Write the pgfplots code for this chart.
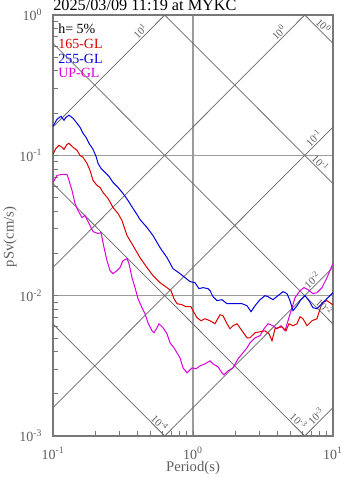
\documentclass[border=0pt]{standalone}
\usepackage{fontspec}
\setmainfont{Liberation Serif}
\usepackage{pgfplots}
\usepackage{pgfplotstable}
\pgfplotsset{compat=1.18}
\definecolor{cRed}{RGB}{220,0,0}
\definecolor{cBlue}{RGB}{0,0,225}
\definecolor{cMag}{RGB}{220,0,220}
\definecolor{gridc}{RGB}{155,155,155}
\definecolor{diagc}{RGB}{105,105,105}
\definecolor{labc}{RGB}{95,95,95}
\definecolor{axc}{RGB}{120,120,120}

\pgfplotstableread{
T Sv
0.1000 0.1611
0.1068 0.1808
0.1141 0.1899
0.1198 0.1778
0.1238 0.1868
0.1301 0.1931
0.1390 0.1838
0.1484 0.1693
0.1559 0.1585
0.1638 0.1436
0.1721 0.1345
0.1808 0.1218
0.1931 0.1104
0.2029 0.09837
0.2097 0.08767
0.2203 0.08075
0.2352 0.07561
0.2512 0.07080
0.2683 0.06414
0.2913 0.05908
0.3162 0.05353
0.3434 0.04771
0.3728 0.04183
0.3981 0.03789
0.4182 0.03490
0.4693 0.03060
0.5180 0.02683
0.5813 0.02202
0.6520 0.01868
0.7197 0.01559
0.8074 0.01436
0.8767 0.01345
0.9519 0.01259
1.033 0.01238
1.104 0.01122
1.179 0.01141
1.280 0.01122
1.323 0.01086
1.390 0.009837
1.484 0.009211
1.611 0.009363
1.750 0.008767
1.900 0.008767
2.063 0.008767
2.239 0.008767
2.431 0.008483
2.596 0.007686
2.774 0.008483
3.010 0.009363
3.268 0.01000
3.434 0.009837
3.728 0.009363
4.047 0.01000
4.394 0.01068
4.693 0.01033
4.930 0.009211
5.180 0.007814
5.533 0.008483
5.909 0.009363
6.310 0.01000
6.738 0.009211
7.197 0.008209
7.686 0.008075
8.345 0.008767
9.061 0.009518
10.00 0.01050
}\bluedata

\pgfplotstableread{
T Sv
0.1000 0.1017
0.1051 0.1122
0.1104 0.1179
0.1160 0.1141
0.1198 0.1104
0.1259 0.1198
0.1301 0.1218
0.1390 0.1141
0.1484 0.1086
0.1559 0.1000
0.1638 0.09677
0.1750 0.08767
0.1838 0.07814
0.1931 0.06629
0.2063 0.06105
0.2167 0.05908
0.2276 0.05441
0.2471 0.04930
0.2683 0.04252
0.2913 0.03852
0.3111 0.03433
0.3378 0.02683
0.3728 0.02276
0.4182 0.01868
0.4693 0.01585
0.5180 0.01389
0.5813 0.01238
0.6520 0.01141
0.6964 0.01086
0.7316 0.009518
0.7686 0.008767
0.8345 0.008624
0.8913 0.008345
0.9676 0.008345
1.000 0.007814
1.068 0.006964
1.141 0.006629
1.218 0.006850
1.323 0.006629
1.436 0.006310
1.559 0.007316
1.638 0.007197
1.750 0.006310
1.838 0.005812
1.931 0.006105
2.063 0.006310
2.239 0.005623
2.431 0.005012
2.554 0.005012
2.774 0.005441
3.010 0.005531
3.268 0.005623
3.491 0.005353
3.667 0.004771
3.853 0.005812
4.047 0.005908
4.322 0.006006
4.616 0.005623
4.850 0.006310
5.180 0.006105
5.533 0.006310
5.813 0.007080
6.105 0.006850
6.520 0.006105
7.079 0.006629
7.686 0.006850
8.345 0.008913
9.061 0.009211
10.00 0.008600
}\reddata

\pgfplotstableread{
T Sv
0.1000 0.06414
0.1068 0.07197
0.1160 0.07316
0.1259 0.07316
0.1301 0.06629
0.1367 0.05623
0.1436 0.04541
0.1509 0.04047
0.1611 0.03607
0.1693 0.03728
0.1778 0.03377
0.1931 0.02865
0.2097 0.02772
0.2203 0.02818
0.2314 0.02202
0.2431 0.01778
0.2554 0.01509
0.2683 0.01436
0.2865 0.01509
0.3010 0.01585
0.3162 0.01778
0.3378 0.01838
0.3491 0.01693
0.3667 0.01345
0.3853 0.01141
0.4047 0.009518
0.4322 0.008209
0.4541 0.007438
0.4771 0.006414
0.5095 0.005623
0.5266 0.005441
0.5533 0.005908
0.5718 0.006310
0.6105 0.005908
0.6520 0.005353
0.6849 0.004616
0.7316 0.004252
0.7686 0.003916
0.8074 0.003607
0.8483 0.003060
0.9061 0.002818
0.9837 0.003060
1.051 0.003010
1.122 0.003162
1.218 0.003268
1.323 0.003433
1.390 0.003268
1.509 0.003111
1.611 0.002818
1.665 0.002727
1.778 0.002913
1.931 0.003060
2.097 0.003548
2.276 0.003916
2.431 0.004252
2.554 0.004616
2.774 0.005012
3.010 0.005179
3.215 0.005812
3.434 0.006310
3.728 0.006105
3.981 0.005812
4.252 0.006105
4.541 0.005623
4.771 0.006629
5.095 0.008209
5.354 0.009677
5.813 0.01086
6.206 0.01141
6.628 0.01104
7.197 0.01033
7.686 0.01051
8.345 0.01141
9.061 0.01345
9.837 0.01638
10.00 0.01693
}\magdata

\begin{document}
\begin{tikzpicture}
\useasboundingbox (-39.75pt,-31.5pt) rectangle (220.5pt,327pt);
\begin{axis}[
  at={(0,0)}, anchor=south west, scale only axis,
  width=210pt, height=315.75pt,
  xmode=log, ymode=log,
  xmin=0.1, xmax=10, ymin=0.001, ymax=1,
  xtick={0.1,1,10},
  xticklabels={10\textsuperscript{-1},10\textsuperscript{0},10\textsuperscript{1}},
  ytick={0.001,0.01,0.1,1},
  yticklabels={10\textsuperscript{-3},10\textsuperscript{-2},10\textsuperscript{-1},10\textsuperscript{0}},
  minor xtick={0.2,0.3,0.4,0.5,0.6,0.7,0.8,0.9,2,3,4,5,6,7,8,9},
  minor ytick={0.002,0.003,0.004,0.005,0.006,0.007,0.008,0.009,0.02,0.03,0.04,0.05,0.06,0.07,0.08,0.09,0.2,0.3,0.4,0.5,0.6,0.7,0.8,0.9},
  xtick pos=left, ytick pos=left,
  tick align=inside,
  major tick length=4pt, minor tick length=3.5pt,
  tick style={axc, line width=0.6pt},
  grid=major,
  major grid style={gridc, line width=0.8pt},
  axis line style={axc, line width=0.8pt},
  tick label style={font=\fontsize{10.5}{12}\selectfont, text=labc},
  yticklabel style={xshift=-4.5pt},
  xticklabel style={yshift=-5pt},
  clip mode=individual,
]
% acceleration lines (Sv = Sa T / 2pi)
\addplot[diagc, line width=0.55pt] coordinates {(0.1,0.15915) (0.62832,1)};
\addplot[diagc, line width=0.55pt] coordinates {(0.1,0.015915) (6.2832,1)};
\addplot[diagc, line width=0.55pt] coordinates {(0.1,0.0015915) (10,0.15915)};
\addplot[diagc, line width=0.55pt] coordinates {(0.62832,0.001) (10,0.015915)};
\addplot[diagc, line width=0.55pt] coordinates {(6.2832,0.001) (10,0.0015915)};
% displacement lines (Sv = 2pi Sd / T)
\addplot[diagc, line width=0.55pt] coordinates {(6.2832,1) (10,0.62832)};
\addplot[diagc, line width=0.55pt] coordinates {(0.62832,1) (10,0.062832)};
\addplot[diagc, line width=0.55pt] coordinates {(0.1,0.62832) (10,0.0062832)};
\addplot[diagc, line width=0.55pt] coordinates {(0.1,0.062832) (6.2832,0.001)};
\addplot[diagc, line width=0.55pt] coordinates {(0.1,0.0062832) (0.62832,0.001)};
% curves
\addplot[cMag, line width=0.75pt] table[x=T,y=Sv] {\magdata};
\addplot[cRed, line width=0.75pt] table[x=T,y=Sv] {\reddata};
\addplot[cBlue, line width=0.75pt] table[x=T,y=Sv] {\bluedata};
% line labels
\tikzset{dl/.style={anchor=south, inner sep=1pt, text=labc, font=\fontsize{8}{9}\selectfont}}
\node[dl, rotate=45] at (axis cs:0.45,0.716) {10\textsuperscript{1}};
\node[dl, rotate=45] at (axis cs:4.4,0.70) {10\textsuperscript{0}};
\node[dl, rotate=45] at (axis cs:7.8,0.124) {10\textsuperscript{-1}};
\node[dl, rotate=45] at (axis cs:7.6,0.0121) {10\textsuperscript{-2}};
\node[dl, rotate=45] at (axis cs:8.1,0.00129) {10\textsuperscript{-3}};
\node[dl, rotate=-45] at (axis cs:8.0,0.785) {10\textsuperscript{0}};
\node[dl, rotate=-45] at (axis cs:7.6,0.0827) {10\textsuperscript{-1}};
\node[dl, rotate=-45] at (axis cs:8.1,0.00776) {10\textsuperscript{-2}};
\node[dl, rotate=-45] at (axis cs:5.3,0.0012) {10\textsuperscript{-3}};
\node[dl, rotate=-45] at (axis cs:0.54,0.00115) {10\textsuperscript{-4}};
\end{axis}
% title, legend text, axis labels
\node[anchor=base west, inner sep=0pt, font=\fontsize{12.2}{14}\selectfont] at (0pt,318.75pt) {2025/03/09 11:19 at MYKC};
\node[anchor=base west, inner sep=0pt, font=\fontsize{10.5}{12}\selectfont] at (3.75pt,301.5pt) {h= 5\%};
\node[anchor=base west, inner sep=0pt, font=\fontsize{10.5}{12}\selectfont, text=cRed] at (3.75pt,290.25pt) {165-GL};
\node[anchor=base west, inner sep=0pt, font=\fontsize{10.5}{12}\selectfont, text=cBlue] at (3.75pt,279.4pt) {255-GL};
\node[anchor=base west, inner sep=0pt, font=\fontsize{10.5}{12}\selectfont, text=cMag] at (3.75pt,268.9pt) {UP-GL};
\node[anchor=base, inner sep=0pt, font=\fontsize{11}{13}\selectfont, text=labc] at (105pt,-27pt) {Period(s)};
\node[rotate=90, inner sep=0pt, font=\fontsize{11}{13}\selectfont, text=labc] at (-32.25pt,149.25pt) {pSv(cm/s)};
\end{tikzpicture}
\end{document}
